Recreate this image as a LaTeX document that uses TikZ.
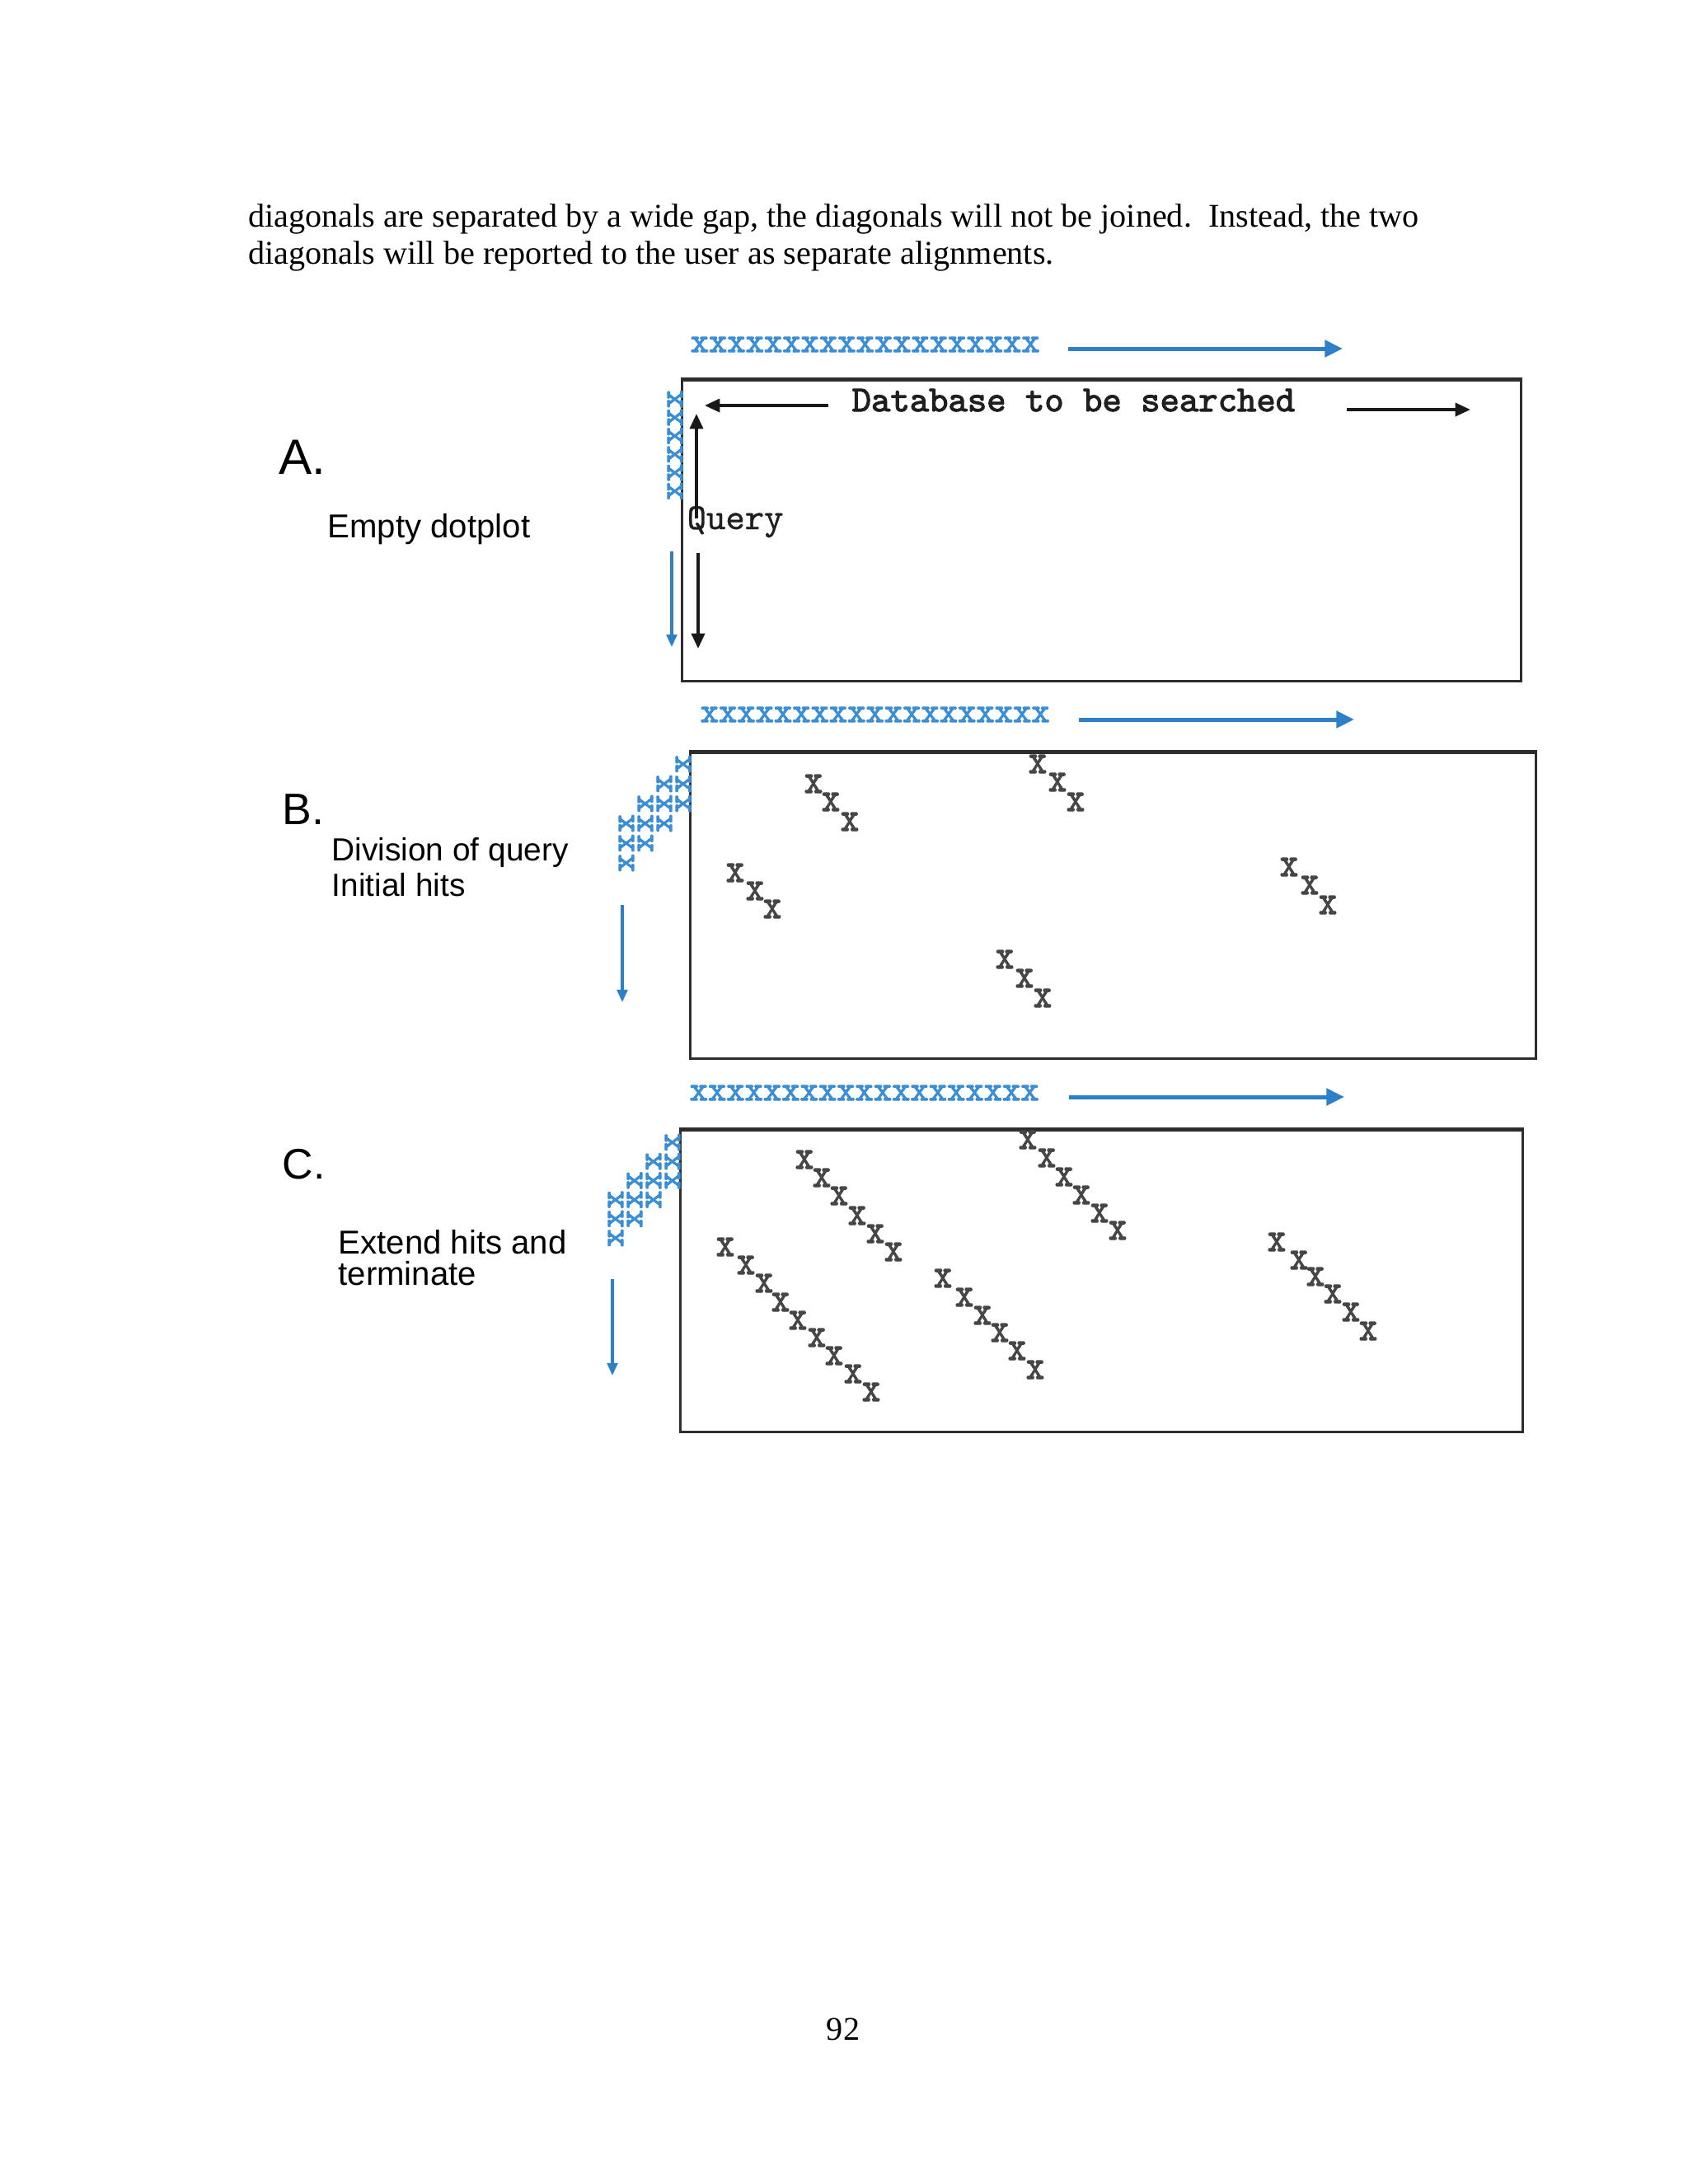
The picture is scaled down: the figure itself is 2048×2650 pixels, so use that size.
\documentclass[tikz,border=0pt]{standalone}
\usepackage{fontspec}
\setmainfont{Liberation Serif}
\newfontfamily\arialf{Liberation Sans}
\newfontfamily\courb[FakeBold=2.5]{lmmono10-regular.otf}
\newfontfamily\courm[FakeBold=0.8]{lmmono10-regular.otf}
\usetikzlibrary{arrows.meta}
\definecolor{xblue}{RGB}{58,142,214}
\definecolor{ablue}{RGB}{45,128,200}
\definecolor{boxc}{RGB}{45,45,45}
\definecolor{hitc}{RGB}{70,70,70}
\newcommand\hx{\scalebox{1}[1.2]{x}}
\tikzset{
  body/.style={anchor=base west, inner sep=0pt, font=\fontsize{12}{14}\selectfont},
  plabel/.style={anchor=base west, inner sep=0pt, font=\arialf\fontsize{#1}{#1}\selectfont},
  ptext/.style={anchor=base west, inner sep=0pt, font=\arialf\fontsize{#1}{#1}\selectfont},
  mono/.style={anchor=base west, inner sep=0pt, text=black!88, font=\courm\fontsize{13.3}{14}\selectfont},
  xrow/.style={anchor=west, inner sep=0pt, text=xblue, font=\courb\fontsize{12.7}{13}\selectfont},
  xq/.style={inner sep=0pt, text=xblue, rotate=90, font=\courb\fontsize{12.7}{13}\selectfont},
  hit/.style={inner sep=0pt, text=hitc, font=\courb\fontsize{12.7}{13}\selectfont},
  plotbox/.style={draw=boxc, line width=0.95pt},
  plottop/.style={draw=boxc, line width=1.5pt},
  bluearrow/.style={draw=ablue, line width=1.5pt, -{Triangle[length=6.5pt,width=6pt]}},
  bluedown/.style={draw=ablue, line width=0.9pt, -{Triangle[length=4.5pt,width=3.8pt]}},
  blackarrow/.style={draw=black!90, line width=1.05pt, -{Triangle[length=5.5pt,width=4.8pt]}},
}
\begin{document}
\begin{tikzpicture}[x=0.2988pt,y=-0.2988pt]
\useasboundingbox[fill=white] (0,0) rectangle (2048,2650);

% body text
\node[body] (t1) at (301,275) {diagonals are separated by a wide gap, the diagonals will not be joined.\ \ Instead, the two};
\node[body] (t2) at (301,320) {diagonals will be reported to the user as separate alignments.};
\node[anchor=base, inner sep=0pt, font=\fontsize{12}{14}\selectfont] (pg) at (1023,2475) {92};

% ---------- Panel A ----------
\node[plabel=18] (la) at (338,575) {A.};
\node[ptext=12] (lae) at (397,652) {Empty dotplot};
\node[xrow] (xa) at (837,418) {xxxxxxxxxxxxxxxxxxx};
\coordinate (a1s) at (1296,423); \coordinate (a1e) at (1629,423);
\draw[bluearrow] (a1s) -- (a1e);
\node[plotbox, draw, inner sep=0pt, minimum width=1018*0.2988pt, minimum height=365*0.2988pt, anchor=north west] (boxa) at (826,460) {};
\draw[plottop] (boxa.north west) -- (boxa.north east);
\node[xq] (qa) at (819,540) {xxxxxx};
\node[mono, font=\courb\fontsize{13.3}{14}\selectfont] (db) at (1033,499) {Database to be searched};
\node[mono] (qry) at (833,642) {Query};
\coordinate (dl1) at (1005,492); \coordinate (dl2) at (855,492);
\coordinate (dr1) at (1634,497); \coordinate (dr2) at (1784,497);
\coordinate (qu1) at (845,629); \coordinate (qu2) at (845,502);
\coordinate (qd1) at (847,671); \coordinate (qd2) at (847,787);
\coordinate (ba1) at (815,669); \coordinate (ba2) at (815,785);
\draw[blackarrow] (dl1) -- (dl2);
\draw[blackarrow] (dr1) -- (dr2);
\draw[blackarrow] (qu1) -- (qu2);
\draw[blackarrow] (qd1) -- (qd2);
\draw[bluedown] (ba1) -- (ba2);

% ---------- Panel B ----------
\node[plabel=16] (lb) at (342,1000) {B.};
\node[ptext=11.6] (lb1) at (402,1044) {Division of query};
\node[ptext=11.6] (lb2) at (402,1087) {Initial hits};
\node[xrow] (xb) at (849,867) {xxxxxxxxxxxxxxxxxxx};
\coordinate (b1s) at (1309,873); \coordinate (b1e) at (1643,873);
\draw[bluearrow] (b1s) -- (b1e);
\node[plotbox, draw, inner sep=0pt, minimum width=1026*0.2988pt, minimum height=371*0.2988pt, anchor=north west] (boxb) at (836,912) {};
\draw[plottop] (boxb.north west) -- (boxb.north east);
\coordinate (bb1) at (755,1098); \coordinate (bb2) at (755,1216);
\draw[bluedown] (bb1) -- (bb2);
\foreach \cx [count=\k from 0] in {829,806,783,760}{
  \foreach \r in {0,1,2}{
    \pgfmathsetmacro\ry{927+24*(\k+\r)}
    \node[xq] (sb\k\r) at (\cx,\ry) {x};
  }
}
\foreach \p [count=\i] in {{987,951},{1008,973},{1031,997},
  {1259,927},{1283,949},{1305,973},
  {892,1059},{916,1081},{937,1103},
  {1564,1052},{1589,1074},{1611,1098},
  {1219,1164},{1243,1187},{1265,1211}}{
  \node[hit] (hb\i) at (\p) {\hx};
}

% ---------- Panel C ----------
\node[plabel=15.5] (lc) at (342,1430) {C.};
\node[ptext=12] (lc1) at (410,1521) {Extend hits and};
\node[ptext=12] (lc2) at (410,1559) {terminate};
\node[xrow] (xc) at (836,1326) {xxxxxxxxxxxxxxxxxxx};
\coordinate (c1s) at (1297,1331); \coordinate (c1e) at (1631,1331);
\draw[bluearrow] (c1s) -- (c1e);
\node[plotbox, draw, inner sep=0pt, minimum width=1022*0.2988pt, minimum height=366*0.2988pt, anchor=north west] (boxc) at (824,1370) {};
\draw[plottop] (boxc.north west) -- (boxc.north east);
\coordinate (cb1) at (743,1552); \coordinate (cb2) at (743,1669);
\draw[bluedown] (cb1) -- (cb2);
\foreach \cx [count=\k from 0] in {816,793,770,747}{
  \foreach \r in {0,1,2}{
    \pgfmathsetmacro\ry{1386+23.2*(\k+\r)}
    \node[xq] (sc\k\r) at (\cx,\ry) {x};
  }
}
\foreach \p [count=\i] in {{976,1407},{997,1429},{1018,1451},{1040,1475},{1062,1497},{1084,1519},
  {1247,1383},{1270,1405},{1291,1428},{1312,1450},{1334,1472},{1356,1493},
  {880,1513},{905,1535},{927,1557},{947,1580},{968,1602},{991,1623},{1012,1645},{1035,1667},{1057,1689},
  {1144,1551},{1170,1574},{1192,1596},{1213,1617},{1234,1639},{1256,1662},
  {1549,1507},{1576,1529},{1596,1549},{1617,1570},{1639,1592},{1660,1615}}{
  \node[hit] (hc\i) at (\p) {\hx};
}
\end{tikzpicture}
\end{document}
